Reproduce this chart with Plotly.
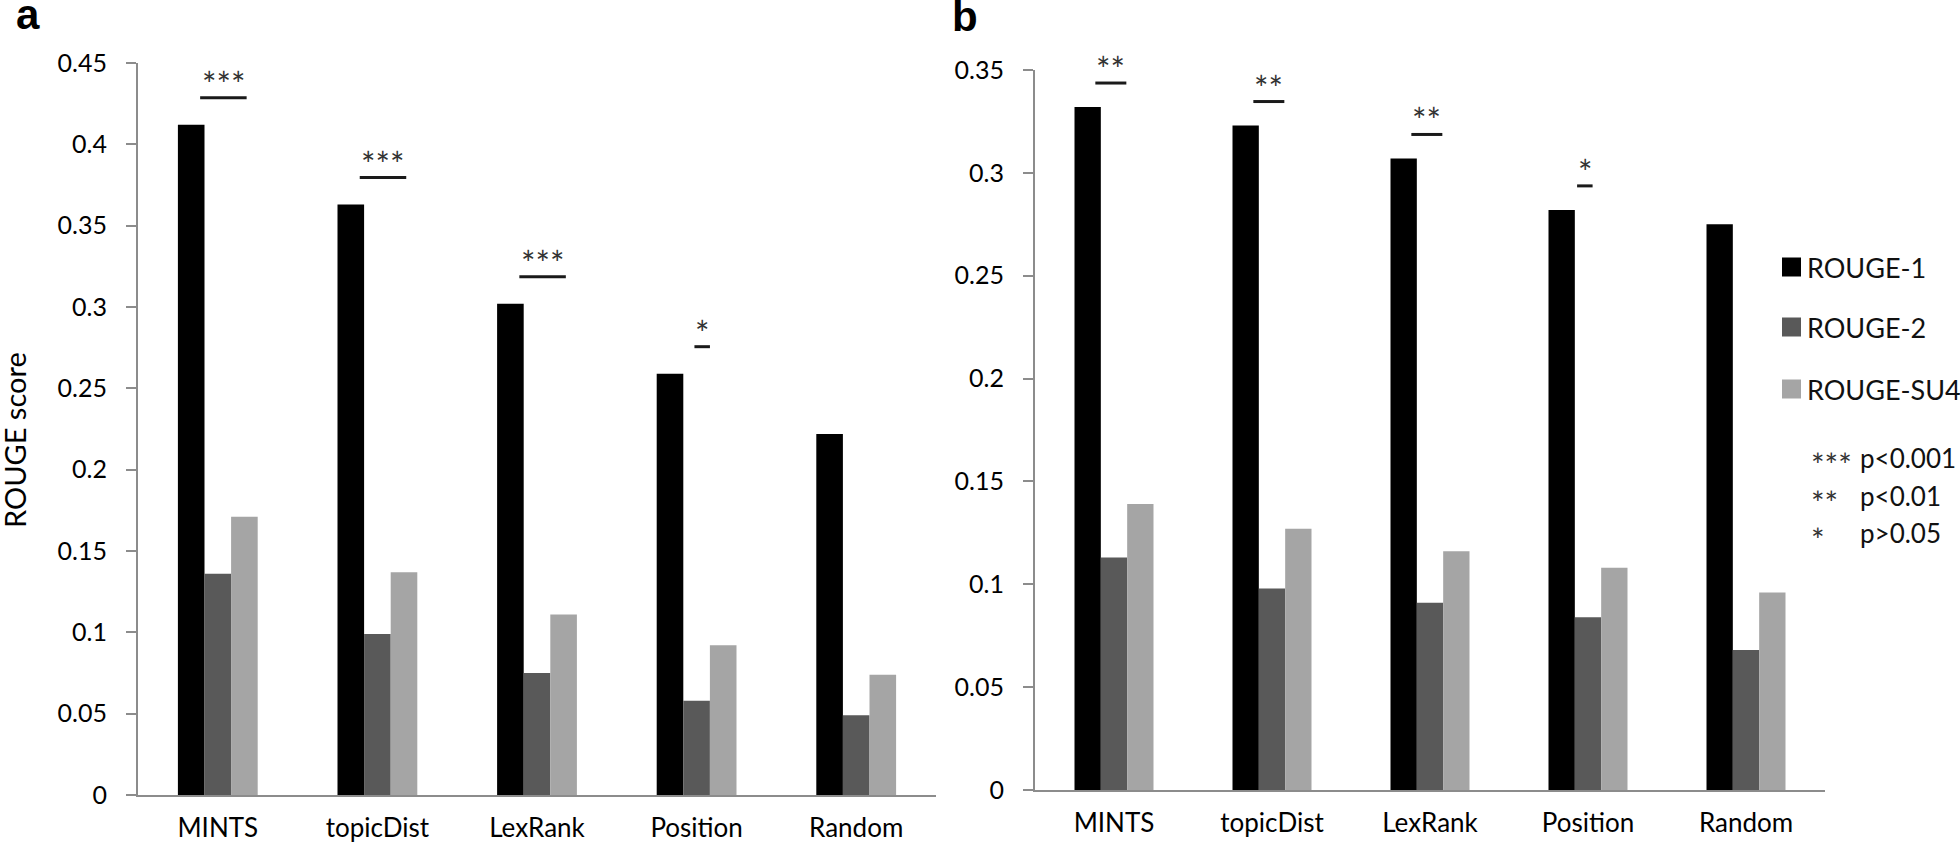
import plotly.graph_objects as go

# ---------------- data ----------------
categories = ["MINTS", "topicDist", "LexRank", "Position", "Random"]
series_names = ["ROUGE-1", "ROUGE-2", "ROUGE-SU4"]

a_rouge1 = [0.412, 0.363, 0.302, 0.259, 0.222]
a_rouge2 = [0.136, 0.099, 0.075, 0.058, 0.049]
a_rougesu4 = [0.171, 0.137, 0.111, 0.092, 0.074]

b_rouge1 = [0.332, 0.323, 0.307, 0.282, 0.275]
b_rouge2 = [0.113, 0.098, 0.091, 0.084, 0.068]
b_rougesu4 = [0.139, 0.127, 0.116, 0.108, 0.096]

sig_a = ["***", "***", "***", "*", ""]
sig_b = ["**", "**", "**", "*", ""]

a_ticks = [0, 0.05, 0.1, 0.15, 0.2, 0.25, 0.3, 0.35, 0.4, 0.45]
a_ticktext = ["0", "0.05", "0.1", "0.15", "0.2", "0.25", "0.3", "0.35", "0.4", "0.45"]
b_ticks = [0, 0.05, 0.1, 0.15, 0.2, 0.25, 0.3, 0.35]
b_ticktext = ["0", "0.05", "0.1", "0.15", "0.2", "0.25", "0.3", "0.35"]

p_notes = [("***", "p<0.001"), ("**", "p<0.01"), ("*", "p>0.05")]

# ---------------- styling ----------------
W, H = 1960, 848
colors = ["#000000", "#595959", "#a5a5a5"]
axis_col = "#8c8c8c"
FONT = "Lato"

# panel geometry (pixels)
a_x0, a_x1, a_ybot, a_ytop = 138, 936, 795, 63
b_x0, b_x1, b_ybot, b_ytop = 1035, 1825, 790, 70
a_range = [0, 0.45]
b_range = [0, 0.35]

fig = go.Figure()

panels = [
    ("x", "y", [a_rouge1, a_rouge2, a_rougesu4]),
    ("x2", "y2", [b_rouge1, b_rouge2, b_rougesu4]),
]
for xa, ya, vals in panels:
    for name, v, c in zip(series_names, vals, colors):
        fig.add_trace(go.Bar(x=categories, y=v, name=name, marker=dict(color=c, line=dict(width=0)),
                             xaxis=xa, yaxis=ya, showlegend=False))

def yaxis_cfg(domain, rng, tv, tt):
    return dict(domain=domain, range=rng, tickvals=tv, ticktext=tt, showline=True, linecolor=axis_col,
                linewidth=2, ticks="outside", ticklen=10, tickwidth=2, tickcolor=axis_col, showgrid=False,
                zeroline=False, tickfont=dict(family=FONT, size=25, color="#000"), ticklabelstandoff=14,
                fixedrange=True, automargin=False)

def xaxis_cfg(domain, anchor):
    return dict(domain=domain, anchor=anchor, showline=True, linecolor=axis_col, linewidth=2, ticks="",
                showgrid=False, zeroline=False, tickfont=dict(family=FONT, size=26, color="#000"),
                ticklabelstandoff=9, range=[-0.5, 4.5], automargin=False)

fig.update_layout(
    width=W, height=H, margin=dict(l=0, r=0, t=0, b=0, pad=0, autoexpand=False),
    paper_bgcolor="white", plot_bgcolor="white",
    barmode="group", bargap=0.5, bargroupgap=0,
    font=dict(family=FONT, color="#000"),
    xaxis=xaxis_cfg([a_x0 / W, a_x1 / W], "y"),
    yaxis=yaxis_cfg([1 - a_ybot / H, 1 - a_ytop / H], a_range, a_ticks, a_ticktext) | dict(anchor="x"),
    xaxis2=xaxis_cfg([b_x0 / W, b_x1 / W], "y2"),
    yaxis2=yaxis_cfg([1 - b_ybot / H, 1 - b_ytop / H], b_range, b_ticks, b_ticktext) | dict(anchor="x2"),
    showlegend=False,
)

shapes = []
annotations = []

# significance markers
def add_sig(sig, r1, xref, yref, px_per_cat, px_per_unit, gap_px, off_cat):
    for i, (s, v) in enumerate(zip(sig, r1)):
        if not s:
            continue
        y = v + gap_px / px_per_unit
        half = len(s) * 15.5 / 2 / px_per_cat
        cx = i + off_cat
        shapes.append(dict(type="line", xref=xref, yref=yref, x0=cx - half, x1=cx + half, y0=y, y1=y,
                           line=dict(color="#1a1a1a", width=3)))
        annotations.append(dict(x=cx, y=y, xref=xref, yref=yref, text=s, showarrow=False,
                                xanchor="center", yanchor="bottom", yshift=-8,
                                font=dict(family=FONT, size=34, color="#333")))

add_sig(sig_a, a_rouge1, "x", "y", (a_x1 - a_x0) / 5, (a_ybot - a_ytop) / (a_range[1] - a_range[0]), 27, 0.035)
add_sig(sig_b, b_rouge1, "x2", "y2", (b_x1 - b_x0) / 5, (b_ybot - b_ytop) / (b_range[1] - b_range[0]), 24, -0.02)

# manual legend
leg_y = [267, 327, 389]
for name, c, yy in zip(series_names, colors, leg_y):
    shapes.append(dict(type="rect", xref="paper", yref="paper", x0=1782 / W, x1=1801 / W,
                       y0=1 - (yy + 9.5) / H, y1=1 - (yy - 9.5) / H, fillcolor=c, line=dict(width=0)))
    annotations.append(dict(x=1805 / W, y=1 - yy / H, xref="paper", yref="paper", text=name, showarrow=False,
                            xanchor="left", yanchor="middle", font=dict(family=FONT, size=27, color="#111")))

# p-value notes
note_y = [458, 496, 533]
for (st, txt), yy in zip(p_notes, note_y):
    annotations.append(dict(x=1809 / W, y=1 - yy / H, xref="paper", yref="paper", text=st, showarrow=False,
                            xanchor="left", yanchor="middle", yshift=-6,
                            font=dict(family=FONT, size=32, color="#333")))
    annotations.append(dict(x=1858 / W, y=1 - yy / H, xref="paper", yref="paper", text=txt, showarrow=False,
                            xanchor="left", yanchor="middle", font=dict(family=FONT, size=26, color="#111")))

# axis title & panel letters
annotations.append(dict(x=14 / W, y=1 - 440 / H, xref="paper", yref="paper", text="ROUGE score", textangle=-90,
                        showarrow=False, xanchor="center", yanchor="middle",
                        font=dict(family=FONT, size=29, color="#000")))
annotations.append(dict(x=14 / W, y=1 - 0 / H, xref="paper", yref="paper", text="<b>a</b>", showarrow=False,
                        xanchor="left", yanchor="top", yshift=11,
                        font=dict(family="Liberation Sans", size=42, color="#000")))
annotations.append(dict(x=950 / W, y=1 - 0 / H, xref="paper", yref="paper", text="<b>b</b>", showarrow=False,
                        xanchor="left", yanchor="top", yshift=9,
                        font=dict(family="Liberation Sans", size=42, color="#000")))

fig.update_layout(shapes=shapes, annotations=annotations)
fig.write_html("out.html", config={"displayModeBar": False},
               post_script="document.body.style.margin='0px';document.body.style.overflow='hidden';")
